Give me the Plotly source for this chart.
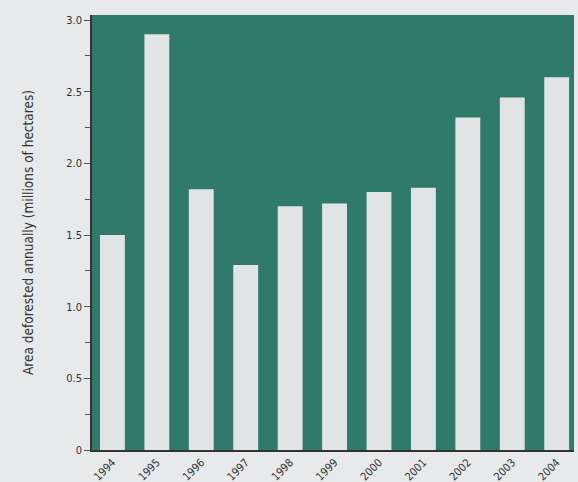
import plotly.graph_objects as go

years = ["1994", "1995", "1996", "1997", "1998", "1999", "2000", "2001", "2002", "2003", "2004"]
area = [1.50, 2.90, 1.82, 1.29, 1.70, 1.72, 1.80, 1.83, 2.32, 2.46, 2.60]
y_tick_vals = [0, 0.5, 1.0, 1.5, 2.0, 2.5, 3.0]
y_tick_text = ["0", "0.5", "1.0", "1.5", "2.0", "2.5", "3.0"]

font_family = "DejaVu Sans Condensed, Liberation Sans Narrow, sans-serif"

fig = go.Figure()
fig.add_trace(go.Bar(
    x=years, y=area,
    marker=dict(color="#e1e4e4", line=dict(width=0)),
    width=0.56,
))

fig.update_layout(
    width=578, height=482,
    paper_bgcolor="#e7e9ea",
    plot_bgcolor="#2f7a69",
    margin=dict(l=92, r=4, t=15, b=32),
    showlegend=False,
    font=dict(family=font_family, size=11, color="#333333"),
    xaxis=dict(
        type="category",
        range=[-0.46, 10.39],
        showgrid=False,
        showline=True, linecolor="#333333", linewidth=1.5,
        ticks="", tickangle=-45,
        tickfont=dict(size=11),
        automargin=False,
    ),
    yaxis=dict(
        range=[0, 3.035],
        tickvals=y_tick_vals, ticktext=y_tick_text,
        showgrid=False, zeroline=False,
        showline=True, linecolor="#333333", linewidth=1.5,
        ticks="outside", ticklen=6, tickcolor="#555555",
        minor=dict(dtick=0.25, ticks="outside", ticklen=5, tickcolor="#555555", showgrid=False),
        tickfont=dict(size=11),
        title=dict(text="Area deforested annually (millions of hectares)", font=dict(size=13.5), standoff=30),
        automargin=False,
    ),
)

fig.write_html(
    "out.html",
    config={"displayModeBar": False},
    post_script="document.body.style.margin='0';document.body.style.background='#e7e9ea';",
)
